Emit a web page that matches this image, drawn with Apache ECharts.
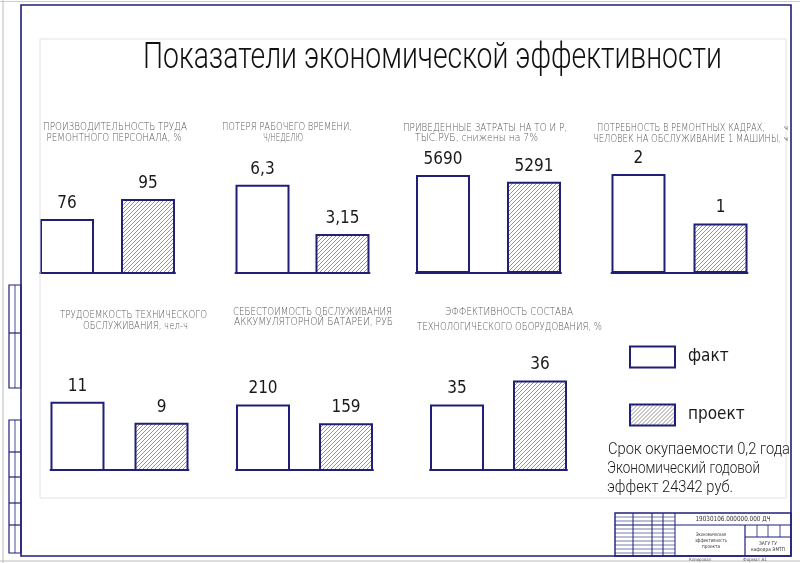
<!DOCTYPE html>
<html><head><meta charset="utf-8">
<script src="https://cdn.jsdelivr.net/npm/echarts@6/dist/echarts.min.js"></script>
<style>html,body{margin:0;padding:0;background:#fff}#c{width:800px;height:563px}</style>
</head><body><div id="c"></div>
<script>
// ---- data ----
const mainTitle = 'Показатели экономической эффективности';
const seriesNames = ['факт', 'проект'];
const chartTitles = [
  ['ПРОИЗВОДИТЕЛЬНОСТЬ ТРУДА', 'РЕМОНТНОГО ПЕРСОНАЛА, %'],
  ['ПОТЕРЯ РАБОЧЕГО ВРЕМЕНИ,', 'Ч/НЕДЕЛЮ'],
  ['ПРИВЕДЕННЫЕ ЗАТРАТЫ НА ТО И Р,', 'ТЫС.РУБ, снижены на 7%'],
  ['ПОТРЕБНОСТЬ В РЕМОНТНЫХ КАДРАХ,', 'ЧЕЛОВЕК НА ОБСЛУЖИВАНИЕ 1 МАШИНЫ,'],
  ['ТРУДОЕМКОСТЬ ТЕХНИЧЕСКОГО', 'ОБСЛУЖИВАНИЯ, чел-ч'],
  ['СЕБЕСТОИМОСТЬ ОБСЛУЖИВАНИЯ', 'АККУМУЛЯТОРНОЙ БАТАРЕИ, РУБ'],
  ['ЭФФЕКТИВНОСТЬ СОСТАВА', 'ТЕХНОЛОГИЧЕСКОГО ОБОРУДОВАНИЯ, %']
];
const factValues    = [76, 6.3, 5690, 2, 11, 210, 35];
const projectValues = [95, 3.15, 5291, 1, 9, 159, 36];
const notes = ['Срок окупаемости 0,2 года', 'Экономический годовой', 'эффект 24342 руб.'];

// ---- layout (positions / scales only) ----
const grids = [
  {left: 40,    top: 150, width: 135, height: 123},
  {left: 235.5, top: 150, width: 134, height: 123},
  {left: 416,   top: 150, width: 145, height: 123},
  {left: 611.5, top: 150, width: 136, height: 123},
  {left: 50.5,  top: 330, width: 138, height: 140},
  {left: 236,   top: 330, width: 137, height: 140},
  {left: 430,   top: 330, width: 137, height: 140}
];
const yMin = [24.7, 0.658, 0, 0, 4.5, 31.4, 32.27];
const yMax = [141.55, 8.517, 7141, 2.485, 17.83, 413.2, 38.1];
const barGaps = ['50%', '48.1%', '68.5%', '51.9%', '55.6%', '53.7%', '53.7%'];
const titlePos = [
  [[115, 127, 144], [114, 138, 135]],
  [[287, 127, 130], [283, 138, 40]],
  [[485, 128, 164], [476.5, 138, 123]],
  [[681, 128, 168], [687, 139, 188]],
  [[133.5, 315, 147], [135.5, 326, 105]],
  [[312.5, 312, 159], [313.5, 322, 159]],
  [[509, 312, 128], [509.5, 327, 185]]
];

const NAVY = '#1f1f78';
const NARROW = "'Liberation Sans Narrow','DejaVu Sans Condensed','Roboto Condensed','DejaVu Sans',sans-serif";
const PLAIN = "'DejaVu Sans',sans-serif";

// hatch pattern
const pc = document.createElement('canvas');
pc.width = 4; pc.height = 4;
const pctx = pc.getContext('2d');
pctx.fillStyle = '#fff'; pctx.fillRect(0, 0, 4, 4);
pctx.strokeStyle = '#8a8a8a'; pctx.lineWidth = 0.9;
pctx.beginPath();
pctx.moveTo(-1, 5); pctx.lineTo(5, -1);
pctx.moveTo(-1, 1); pctx.lineTo(1, -1);
pctx.moveTo(3, 5); pctx.lineTo(5, 3);
pctx.stroke();
const HATCH = {image: pc, repeat: 'repeat'};

// text measurement for horizontal fitting
const mc = document.createElement('canvas').getContext('2d');
function fit(text, size, family, weight, target) {
  mc.font = weight + ' ' + size + 'px ' + family;
  const w = mc.measureText(text).width;
  return w > 0 ? target / w : 1;
}
function txt(text, x, y, size, target, opts) {
  opts = opts || {};
  const family = opts.family || PLAIN;
  const weight = opts.weight || 'normal';
  const align = opts.align || 'center';
  return {
    type: 'text', x: x, y: y, z: 10,
    scaleX: target ? fit(text, size, family, weight, target) : 1,
    style: {text: text, fontSize: size, fontFamily: family, fontWeight: weight,
      fill: opts.fill || '#222', textAlign: align, textVerticalAlign: opts.valign || 'middle'}
  };
}
function line(x1, y1, x2, y2, w, c) {
  return {type: 'line', z: 5, shape: {x1, y1, x2, y2}, style: {stroke: c || NAVY, lineWidth: w || 1}};
}
function rect(x, y, w, h, lw, c) {
  return {type: 'rect', z: 5, shape: {x, y, width: w, height: h}, style: {fill: null, stroke: c || NAVY, lineWidth: lw || 1}};
}

const graphics = [];
// page borders
graphics.push(line(3, 0, 3, 563, 1, '#bbb'));
graphics.push(line(0, 1.5, 800, 1.5, 1, '#ccc'));
graphics.push(line(0, 561, 800, 561, 1, '#bbb'));
graphics.push(rect(21, 5, 770, 551, 1.6));
graphics.push(rect(40, 39, 746, 459, 1, '#e2e2e2'));
// left margin strip
graphics.push(rect(9, 285, 12, 103, 1.2));
graphics.push(line(9, 333, 21, 333, 1.2));
graphics.push(line(15, 285, 15, 388, 0.8));
graphics.push(rect(9, 420, 12, 133, 1.2));
[452, 477, 503, 525].forEach(y => graphics.push(line(9, y, 21, y, 1.2)));
graphics.push(line(15, 420, 15, 553, 0.8));
// title block
graphics.push(rect(615, 513, 176, 43, 1.4));
graphics.push(line(615, 525, 791, 525, 1.2));
[633, 652, 663, 675].forEach(x => graphics.push(line(x, 513, x, 556, 1)));
graphics.push(line(745, 525, 745, 556, 1.2));
graphics.push(line(745, 537, 791, 537, 1));
[757, 768, 780].forEach(x => graphics.push(line(x, 525, x, 537, 0.8)));
[517, 521, 529, 533, 537, 541, 545, 549, 553].forEach(y => graphics.push(line(615, y, 675, y, 0.6)));
graphics.push(txt('19030106.000000.000 ДЧ', 733, 519, 7, 75, {fill: '#333'}));
graphics.push(txt('Экономическая', 711, 535, 5, 30, {fill: '#333'}));
graphics.push(txt('эффективность', 711, 541, 5, 32, {fill: '#333'}));
graphics.push(txt('проекта', 711, 547, 5, 18, {fill: '#333'}));
graphics.push(txt('ЗАГУ ГУ', 768, 544, 5, 18, {fill: '#333'}));
graphics.push(txt('кафедра ЭМТП', 768, 550, 5, 34, {fill: '#333'}));
graphics.push(txt('Копировал', 700, 559.5, 4.5, 22, {fill: '#555'}));
graphics.push(txt('Формат А1', 755, 559.5, 4.5, 24, {fill: '#555'}));
// main title
graphics.push(txt(mainTitle, 432.5, 59, 37, 579, {fill: '#111', family: "'Roboto','DejaVu Sans',sans-serif", weight: 300}));
// chart titles
chartTitles.forEach((lines, i) => {
  lines.forEach((t, j) => {
    const p = titlePos[i][j];
    graphics.push(txt(t, p[0], p[1], 10.5, p[2], {fill: '#5a5a5a', family: PLAIN, weight: 300}));
  });
});
graphics.push(txt('ч', 786, 128, 7, 4, {fill: '#555'}));
graphics.push(txt('ч', 786, 139, 7, 4, {fill: '#555'}));
// notes
const notePos = [[608, 450, 182], [607, 469, 153], [607, 488, 126]];
notes.forEach((t, i) => graphics.push(txt(t, notePos[i][0], notePos[i][1], 17, notePos[i][2],
  {align: 'left', fill: '#1a1a1a', family: "'Roboto','DejaVu Sans',sans-serif", weight: 300})));

const labelFmt = p => String(p.value).replace('.', ',');
const labelStyle = {show: true, position: 'top', distance: 7, formatter: labelFmt,
  fontSize: 17, color: '#1a1a1a', fontFamily: NARROW};

const option = {
  backgroundColor: '#fff',
  animation: false,
  grid: grids.map(g => Object.assign({containLabel: false}, g)),
  xAxis: grids.map((g, i) => ({type: 'category', gridIndex: i, data: [''],
    axisLine: {show: true, lineStyle: {color: NAVY, width: 2}},
    axisTick: {show: false}, axisLabel: {show: false}, splitLine: {show: false}})),
  yAxis: grids.map((g, i) => ({type: 'value', gridIndex: i, min: yMin[i], max: yMax[i], show: false,
    splitLine: {show: false}})),
  legend: {
    orient: 'vertical', left: 629, top: 345.5, padding: 0, itemWidth: 45, itemHeight: 21, itemGap: 35,
    icon: 'rect', selectedMode: false,
    textStyle: {fontSize: 17, color: '#1a1a1a', fontFamily: NARROW, padding: [0, 0, 0, 8]},
    data: [
      {name: seriesNames[0], itemStyle: {color: '#fff', borderColor: NAVY, borderWidth: 2}},
      {name: seriesNames[1], itemStyle: {color: HATCH, borderColor: NAVY, borderWidth: 2}}
    ]
  },
  graphic: graphics,
  series: []
};
grids.forEach((g, i) => {
  option.series.push({type: 'bar', name: seriesNames[0], xAxisIndex: i, yAxisIndex: i,
    data: [factValues[i]], barWidth: 54, barGap: barGaps[i],
    itemStyle: {color: '#fff', borderColor: NAVY, borderWidth: 2}, label: labelStyle});
  option.series.push({type: 'bar', name: seriesNames[1], xAxisIndex: i, yAxisIndex: i,
    data: [projectValues[i]], barWidth: 54, barGap: barGaps[i],
    itemStyle: {color: HATCH, borderColor: NAVY, borderWidth: 2}, label: labelStyle});
});
const chart = echarts.init(document.getElementById('c'), null, {renderer: 'canvas'});
chart.setOption(option);
</script></body></html>
